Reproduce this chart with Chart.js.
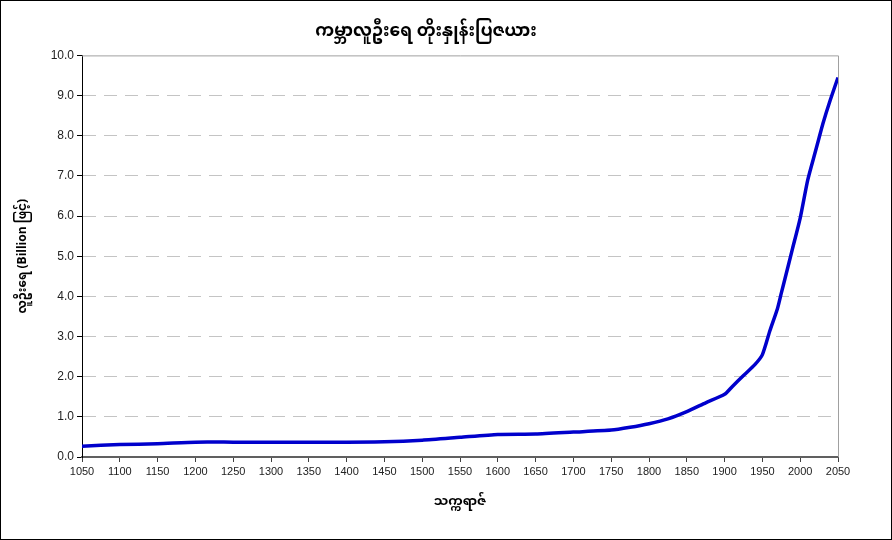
<!DOCTYPE html>
<html>
<head>
<meta charset="utf-8">
<script src="https://cdn.jsdelivr.net/npm/chart.js@4.4.0/dist/chart.umd.min.js"></script>
<style>
  html, body { margin: 0; padding: 0; background: #fff; }
  #wrap { width: 892px; height: 540px; position: relative; }
</style>
</head>
<body>
<div id="wrap"><canvas id="popChart" width="892" height="540"></canvas></div>
<script>
// years and world population (billions)
var years = [1050, 1100, 1150, 1200, 1250, 1300, 1350, 1400, 1450, 1500, 1550, 1600, 1650, 1700, 1750, 1775, 1800, 1825, 1850, 1875, 1900, 1910, 1925, 1940, 1950, 1960, 1970, 1975, 1980, 1990, 2000, 2010, 2020, 2025, 2030, 2040, 2050];
var population = [0.27, 0.31, 0.33, 0.37, 0.37, 0.37, 0.37, 0.37, 0.38, 0.42, 0.49, 0.56, 0.57, 0.62, 0.67, 0.74, 0.83, 0.95, 1.13, 1.35, 1.56, 1.75, 2.03, 2.3, 2.55, 3.15, 3.7, 4.08, 4.45, 5.2, 5.95, 6.9, 7.6, 7.95, 8.3, 8.9, 9.45];
var xTicks = [1050, 1100, 1150, 1200, 1250, 1300, 1350, 1400, 1450, 1500, 1550, 1600, 1650, 1700, 1750, 1800, 1850, 1900, 1950, 2000, 2050];

var chartTitle = "ကမ္ဘာလူဦးရေ တိုးနှုန်းပြဇယား";
var yTitle = "လူဦးရေ (Billion ဖြင့်)";
var xTitle = "သက္ကရာဇ်";

var myFont = "'Noto Sans Myanmar', 'Padauk', 'Myanmar Text', 'Noto Sans', sans-serif";

var points = years.map(function (y, i) { return { x: y, y: population[i] }; });

// frame around canvas and plot area
var frames = {
  id: "frames",
  afterDraw: function (chart) {
    var ctx = chart.ctx, a = chart.chartArea;
    ctx.save();
    ctx.strokeStyle = "#a0a0a0";
    ctx.lineWidth = 1;
    ctx.beginPath();
    ctx.moveTo(a.left, a.top + 0.5);
    ctx.lineTo(a.right + 0.5, a.top + 0.5);
    ctx.lineTo(a.right + 0.5, a.bottom);
    ctx.stroke();
    ctx.strokeStyle = "#000";
    ctx.strokeRect(0.5, 0.5, chart.width - 1, chart.height - 1);
    ctx.restore();
  }
};

var ctx = document.getElementById("popChart").getContext("2d");
new Chart(ctx, {
  type: "line",
  data: {
    datasets: [{
      data: points,
      borderColor: "#0000cc",
      borderWidth: 3.5,
      pointRadius: 0,
      tension: 0.2,
      fill: false
    }]
  },
  options: {
    responsive: false,
    animation: false,
    layout: { padding: { left: 14, right: 54, top: 0, bottom: 25 } },
    plugins: {
      legend: { display: false },
      tooltip: { enabled: false },
      title: {
        display: true,
        text: chartTitle,
        color: "#000",
        font: { family: myFont, size: 17, weight: "bold" },
        padding: { top: 24, bottom: 11 }
      }
    },
    scales: {
      x: {
        type: "linear",
        min: 1050,
        max: 2050,
        afterBuildTicks: function (axis) {
          axis.ticks = xTicks.map(function (v) { return { value: v }; });
        },
        afterFit: function (axis) { axis.height = 58; },
        grid: {
          drawOnChartArea: false,
          drawTicks: true,
          tickLength: 5,
          tickColor: "#404040"
        },
        border: { color: "#606060", width: 2 },
        ticks: {
          color: "#222",
          font: { family: "'Liberation Sans', Arial, sans-serif", size: 11 },
          maxRotation: 0,
          autoSkip: false,
          padding: 3,
          callback: function (v) { return String(v); }
        },
        title: {
          display: true,
          text: xTitle,
          color: "#000",
          font: { family: myFont, size: 13, weight: "bold" },
          padding: { top: 10 }
        }
      },
      y: {
        min: 0,
        max: 10,
        afterFit: function (axis) { axis.width = 68; },
        grid: {
          color: function (c) { return c.tick && c.tick.value === 10 ? "rgba(0,0,0,0)" : "#c4c4c4"; },
          tickBorderDash: [],
          tickColor: "#000",
          tickLength: 5
        },
        border: { color: "#000", width: 1, dash: [13, 8] },
        ticks: {
          stepSize: 1,
          color: "#222",
          font: { family: "'Liberation Sans', Arial, sans-serif", size: 12 },
          padding: 3,
          callback: function (v) { return v.toFixed(1); }
        },
        title: {
          display: true,
          text: yTitle,
          color: "#000",
          font: { family: myFont, size: 12, weight: "bold" },
          padding: { bottom: 4 }
        }
      }
    }
  },
  plugins: [frames]
});
</script>
</body>
</html>
